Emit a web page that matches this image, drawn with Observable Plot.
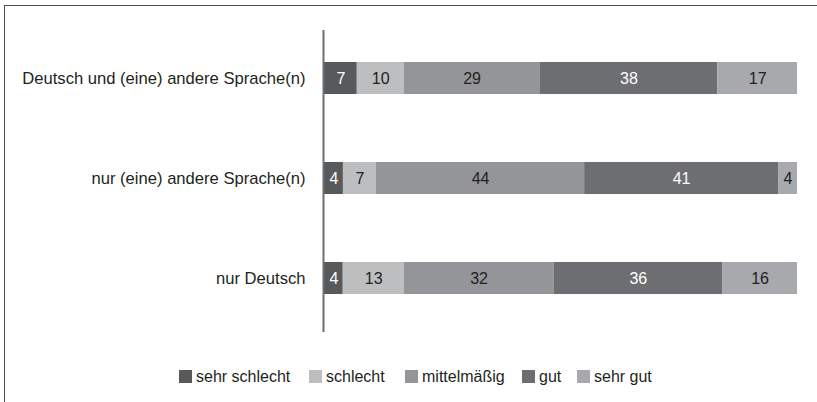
<!DOCTYPE html>
<html>
<head>
<meta charset="utf-8">
<script src="https://cdn.jsdelivr.net/npm/d3@7"></script>
<script src="https://cdn.jsdelivr.net/npm/@observablehq/plot@0.6"></script>
<style>
  html, body { margin: 0; padding: 0; background: #fff; }
  body { width: 817px; height: 402px; overflow: hidden; position: relative; font-family: "Liberation Sans", Arial, sans-serif; }
  #frame { position: absolute; left: 4px; top: 5px; width: 900px; height: 500px; border-top: 1.5px solid #4a4f55; border-left: 1.5px solid #4a4f55; box-sizing: border-box; }
  #chart { position: absolute; left: 0; top: 0; }
  #legend { position: absolute; left: 0; top: 368px; width: 817px; font-size: 16px; color: #231f20; }
  .item { position: absolute; top: 0; display: flex; align-items: center; white-space: nowrap; line-height: 17px; }
  .sw { width: 13px; height: 13px; margin-right: 4px; display: inline-block; }
</style>
</head>
<body>
<div id="frame"></div>
<div id="chart"></div>
<div id="legend"></div>
<script>
const categories = ["Deutsch und (eine) andere Sprache(n)", "nur (eine) andere Sprache(n)", "nur Deutsch"];
const levels = ["sehr schlecht", "schlecht", "mittelmäßig", "gut", "sehr gut"];
const colors = ["#58595b", "#bcbec0", "#939598", "#6d6e71", "#a7a9ac"];
const labelColors = ["#ffffff", "#231f20", "#231f20", "#ffffff", "#231f20"];
const valuesDeutschUnd = [7, 10, 29, 38, 17];
const valuesNurAndere = [4, 7, 44, 41, 4];
const valuesNurDeutsch = [4, 13, 32, 36, 16];
const legendX = [179, 309, 405, 522, 577];

const series = [valuesDeutschUnd, valuesNurAndere, valuesNurDeutsch];
const data = [];
categories.forEach((c, i) => {
  levels.forEach((l, j) => {
    data.push({cat: c, level: l, value: series[i][j], tc: labelColors[j]});
  });
});

const chart = Plot.plot({
  width: 817,
  height: 350,
  marginLeft: 324,
  marginRight: 20,
  marginTop: 27,
  marginBottom: 21,
  style: {fontFamily: '"Liberation Sans", Arial, sans-serif', fontSize: "16px", color: "#231f20", background: "transparent"},
  x: {domain: [0, 1], axis: null},
  y: {domain: categories, paddingInner: 0.68, paddingOuter: 0.34, axis: null},
  color: {domain: levels, range: colors},
  marks: [
    Plot.axisY({tickSize: 0, tickPadding: 19, fontSize: 16.6, label: null}),
    Plot.barX(data, Plot.stackX({offset: "normalize", x: "value", y: "cat", fill: "level"})),
    Plot.text(data, Plot.stackX({offset: "normalize", x: "value", y: "cat", text: "value", fill: "tc", fontSize: 16})),
    Plot.ruleX([0], {stroke: "#6d6e71", strokeWidth: 2, dx: -1, insetTop: 3, insetBottom: -3})
  ]
});
document.getElementById("chart").appendChild(chart);

const leg = document.getElementById("legend");
levels.forEach((l, j) => {
  const it = document.createElement("div");
  it.className = "item";
  it.style.left = legendX[j] + "px";
  const sw = document.createElement("span");
  sw.className = "sw";
  sw.style.background = colors[j];
  it.appendChild(sw);
  it.appendChild(document.createTextNode(l));
  leg.appendChild(it);
});
</script>
</body>
</html>
